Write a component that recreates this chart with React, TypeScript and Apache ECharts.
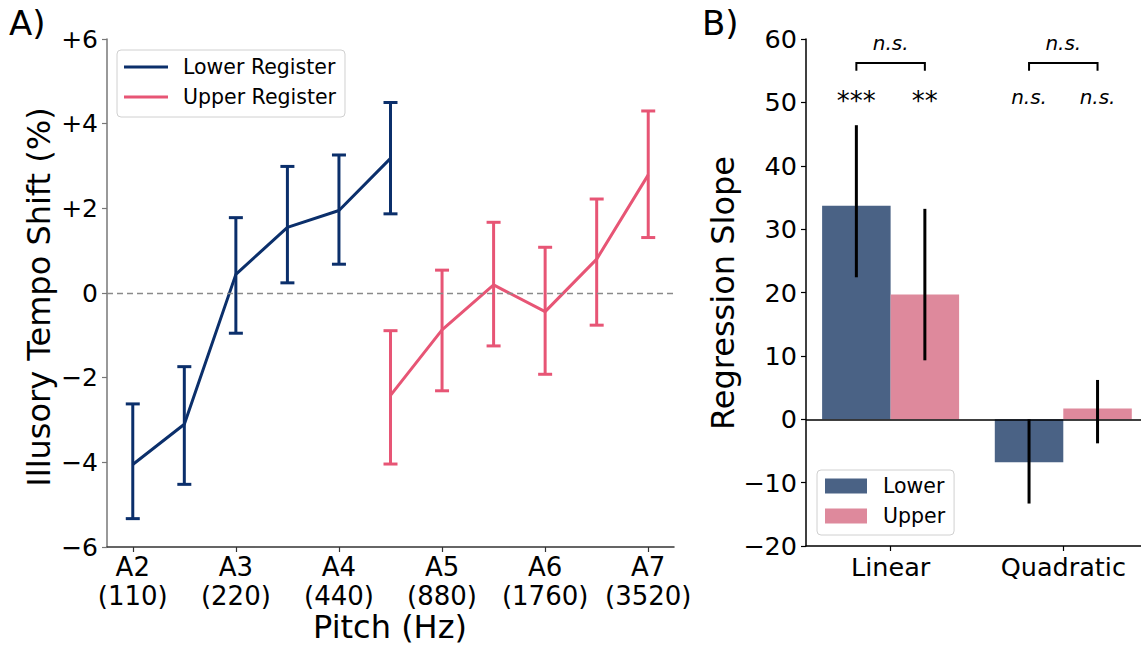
import React, { useEffect, useRef } from "react";
import * as echarts from "echarts";

// Panel A: pitch positions (octave steps from A2) and tempo shift (%)
const pitchTicks = [0, 1, 2, 3, 4, 5];
const pitchNames = ["A2", "A3", "A4", "A5", "A6", "A7"];
const pitchHz = ["110", "220", "440", "880", "1760", "3520"];

const lowerPos = [0, 0.5, 1, 1.5, 2, 2.5];
const lowerMean = [-4.05, -3.1, 0.44, 1.55, 1.95, 3.18];
const lowerLow = [-5.33, -4.52, -0.95, 0.24, 0.68, 1.87];
const lowerHigh = [-2.62, -1.74, 1.78, 2.99, 3.26, 4.5];

const upperPos = [2.5, 3, 3.5, 4, 4.5, 5];
const upperMean = [-2.42, -0.87, 0.19, -0.44, 0.8, 2.79];
const upperLow = [-4.04, -2.31, -1.25, -1.92, -0.76, 1.31];
const upperHigh = [-0.89, 0.54, 1.67, 1.08, 2.22, 4.3];

// Panel B: regression slopes
const slopeTerms = ["Linear", "Quadratic"];
const termPos = [0, 1];
const slopeLower = [33.7, -6.8];
const slopeLowerLow = [22.4, -13.3];
const slopeLowerHigh = [46.4, 0];
const slopeUpper = [19.7, 1.7];
const slopeUpperLow = [9.3, -3.8];
const slopeUpperHigh = [33.2, 6.2];
const sigLower = ["***", "n.s."];
const sigUpper = ["**", "n.s."];
const sigBetween = ["n.s.", "n.s."];

const NAVY = "#0b2f6b";
const PINK = "#e75575";
const BAR_NAVY = "#4a6285";
const BAR_PINK = "#de899c";
const FONT = "DejaVu Sans";
const BAR_W = 68.5;

const signed = (v: number) =>
  v > 0 ? "+" + v : v < 0 ? "\u2212" + Math.abs(v) : "0";
const minus = (v: number) => (v < 0 ? "\u2212" + Math.abs(v) : String(v));

function errorBars(color: string, capHalf: number, offset: number, width: number) {
  return (_p: any, api: any) => {
    const x = api.value(0);
    const lo = api.coord([x, api.value(1)]);
    const hi = api.coord([x, api.value(2)]);
    const cx = lo[0] + offset;
    const style = { stroke: color, lineWidth: width };
    const children: any[] = [
      { type: "line", shape: { x1: cx, y1: lo[1], x2: cx, y2: hi[1] }, style },
    ];
    if (capHalf > 0) {
      children.push(
        { type: "line", shape: { x1: cx - capHalf, y1: lo[1], x2: cx + capHalf, y2: lo[1] }, style },
        { type: "line", shape: { x1: cx - capHalf, y1: hi[1], x2: cx + capHalf, y2: hi[1] }, style }
      );
    }
    return { type: "group", children };
  };
}

// Bars of one slope series, each offset half a bar width from its term position
function slopeBars(color: string, offset: number) {
  return (_p: any, api: any) => {
    const x = api.value(0);
    const base = api.coord([x, 0]);
    const top = api.coord([x, api.value(1)]);
    const cx = base[0] + offset;
    return {
      type: "rect",
      shape: {
        x: cx - BAR_W / 2,
        y: Math.min(base[1], top[1]),
        width: BAR_W,
        height: Math.abs(base[1] - top[1]),
      },
      style: { fill: color },
    };
  };
}

function sigMarks(_p: any, api: any) {
  const pos = api.value(0);
  const i = _p.dataIndex;
  const c = api.coord([pos, 56.2]);
  const legEnd = api.coord([pos, 55.0])[1];
  const xl = c[0] - BAR_W / 2;
  const xr = c[0] + BAR_W / 2;
  const lineStyle = { stroke: "#000", lineWidth: 2 };
  const top = api.coord([pos, 59.4]);
  const row = api.coord([pos, 50.9]);
  const isStar = (s: string) => s.indexOf("*") >= 0;
  const label = (s: string, x: number, y: number) => ({
    type: "text",
    x,
    y: isStar(s) ? y + 4 : y,
    style: {
      text: s,
      fontFamily: FONT,
      fontSize: isStar(s) ? 26 : 20,
      fontStyle: isStar(s) ? "normal" : "italic",
      fill: "#000",
      align: "center",
      verticalAlign: "middle",
    },
  });
  return {
    type: "group",
    children: [
      { type: "polyline", shape: { points: [[xl, legEnd], [xl, c[1]], [xr, c[1]], [xr, legEnd]] }, style: { ...lineStyle, fill: "none" } },
      label(sigBetween[i], c[0], top[1]),
      label(sigLower[i], xl, row[1]),
      label(sigUpper[i], xr, row[1]),
    ],
  };
}

const title = (text: string, x: number, y: number, rotated: boolean) => ({
  type: "text",
  x,
  y,
  rotation: rotated ? Math.PI / 2 : 0,
  style: {
    text,
    fontFamily: FONT,
    fontSize: 32,
    fill: "#000",
    align: "center",
    verticalAlign: "middle",
  },
});

export default function App() {
  const ref = useRef<HTMLDivElement>(null);
  useEffect(() => {
    if (!ref.current) return;
    const chart = echarts.init(ref.current, undefined, { renderer: "svg" });
    const txt = { fontFamily: FONT, color: "#000" };
    chart.setOption({
      animation: false,
      backgroundColor: "#fff",
      textStyle: { fontFamily: FONT },
      grid: [
        { left: 107, top: 39, width: 567, height: 508 },
        { left: 806, top: 39, width: 335, height: 507 },
      ],
      xAxis: [
        {
          type: "value",
          gridIndex: 0,
          min: -0.25,
          max: 5.25,
          splitLine: { show: false },
          axisLine: { onZero: false, lineStyle: { color: "#333", width: 1.5 } },
          axisTick: { customValues: pitchTicks, length: 5, lineStyle: { color: "#333", width: 1.2 } },
          axisLabel: {
            customValues: pitchTicks,
            ...txt,
            fontSize: 26,
            lineHeight: 28.5,
            margin: 6,
            formatter: (v: number) => {
              const i = pitchTicks.indexOf(Math.round(v));
              return `${pitchNames[i]}\n(${pitchHz[i]})`;
            },
          },
        },
        {
          type: "value",
          gridIndex: 1,
          min: -0.49,
          max: 1.45,
          splitLine: { show: false },
          axisLine: { onZero: false, lineStyle: { color: "#000", width: 1.5 } },
          axisTick: { customValues: termPos, length: 5, lineStyle: { color: "#000", width: 1.2 } },
          axisLabel: {
            customValues: termPos,
            ...txt,
            fontSize: 25.5,
            margin: 8,
            formatter: (v: number) => slopeTerms[Math.round(v)],
          },
        },
      ],
      yAxis: [
        {
          type: "value",
          gridIndex: 0,
          min: -6,
          max: 6,
          interval: 2,
          splitLine: { show: false },
          axisLine: { show: true, onZero: false, lineStyle: { color: "#777", width: 1.5 } },
          axisTick: { show: true, length: 5, lineStyle: { color: "#777", width: 1.2 } },
          axisLabel: { ...txt, fontSize: 25, margin: 9, formatter: signed },
        },
        {
          type: "value",
          gridIndex: 1,
          min: -20,
          max: 60,
          interval: 10,
          splitLine: { show: false },
          axisLine: { show: true, onZero: false, lineStyle: { color: "#000", width: 1.5 } },
          axisTick: { show: true, length: 5, lineStyle: { color: "#000", width: 1.2 } },
          axisLabel: { ...txt, fontSize: 25.5, margin: 9, formatter: minus },
        },
      ],
      legend: [
        {
          left: 117,
          top: 50,
          orient: "vertical",
          itemWidth: 44,
          itemHeight: 3,
          itemGap: 6,
          padding: [5, 9, 8, 7],
          borderColor: "#d0d0d0",
          borderWidth: 1,
          borderRadius: 4,
          backgroundColor: "#fff",
          textStyle: { ...txt, fontSize: 20.5, lineHeight: 24, padding: [0, 0, 0, 10] },
          data: [
            { name: "Lower Register", icon: "rect" },
            { name: "Upper Register", icon: "rect" },
          ],
        },
        {
          left: 817,
          top: 470,
          orient: "vertical",
          itemWidth: 42,
          itemHeight: 15,
          itemGap: 6,
          padding: [4, 9, 7, 8],
          borderColor: "#d0d0d0",
          borderWidth: 1,
          borderRadius: 4,
          backgroundColor: "#fff",
          textStyle: { ...txt, fontSize: 20.5, lineHeight: 24, padding: [0, 0, 0, 11] },
          data: [
            { name: "Lower", icon: "rect", itemStyle: { color: BAR_NAVY } },
            { name: "Upper", icon: "rect", itemStyle: { color: BAR_PINK } },
          ],
        },
      ],
      series: [
        {
          name: "Lower Register",
          type: "line",
          xAxisIndex: 0,
          yAxisIndex: 0,
          data: lowerPos.map((x, i) => [x, lowerMean[i]]),
          symbol: "none",
          color: NAVY,
          lineStyle: { width: 3, color: NAVY },
          z: 3,
          markLine: {
            silent: true,
            symbol: "none",
            label: { show: false },
            lineStyle: { type: [6, 4], color: "#8a8a8a", width: 1.3 },
            data: [{ yAxis: 0 }],
          },
        },
        {
          name: "Upper Register",
          type: "line",
          xAxisIndex: 0,
          yAxisIndex: 0,
          data: upperPos.map((x, i) => [x, upperMean[i]]),
          symbol: "none",
          color: PINK,
          lineStyle: { width: 3, color: PINK },
          z: 3,
        },
        {
          type: "custom",
          xAxisIndex: 0,
          yAxisIndex: 0,
          renderItem: errorBars(NAVY, 7, 0, 3),
          data: lowerPos.map((x, i) => [x, lowerLow[i], lowerHigh[i]]),
          z: 4,
        },
        {
          type: "custom",
          xAxisIndex: 0,
          yAxisIndex: 0,
          renderItem: errorBars(PINK, 7, 0, 3),
          data: upperPos.map((x, i) => [x, upperLow[i], upperHigh[i]]),
          z: 4,
        },
        {
          name: "Lower",
          type: "custom",
          xAxisIndex: 1,
          yAxisIndex: 1,
          color: BAR_NAVY,
          renderItem: slopeBars(BAR_NAVY, -BAR_W / 2),
          data: termPos.map((x, i) => [x, slopeLower[i]]),
          z: 2,
        },
        {
          name: "Upper",
          type: "custom",
          xAxisIndex: 1,
          yAxisIndex: 1,
          color: BAR_PINK,
          renderItem: slopeBars(BAR_PINK, BAR_W / 2),
          data: termPos.map((x, i) => [x, slopeUpper[i]]),
          z: 2,
          markLine: {
            silent: true,
            symbol: "none",
            label: { show: false },
            lineStyle: { type: "solid", color: "#000", width: 1.5 },
            data: [{ yAxis: 0 }],
            z: 5,
          },
        },
        {
          type: "custom",
          xAxisIndex: 1,
          yAxisIndex: 1,
          renderItem: errorBars("#000", 0, -BAR_W / 2, 3),
          data: termPos.map((x, i) => [x, slopeLowerLow[i], slopeLowerHigh[i]]),
          z: 6,
        },
        {
          type: "custom",
          xAxisIndex: 1,
          yAxisIndex: 1,
          renderItem: errorBars("#000", 0, BAR_W / 2, 3),
          data: termPos.map((x, i) => [x, slopeUpperLow[i], slopeUpperHigh[i]]),
          z: 6,
        },
        {
          type: "custom",
          xAxisIndex: 1,
          yAxisIndex: 1,
          renderItem: sigMarks,
          data: termPos.map((x) => [x]),
          z: 6,
          clip: false,
        },
      ],
      graphic: [
        {
          type: "text",
          x: 9,
          y: 23,
          style: { text: "A)", fontFamily: FONT, fontSize: 34, fill: "#000", verticalAlign: "middle" },
        },
        {
          type: "text",
          x: 702,
          y: 23,
          style: { text: "B)", fontFamily: FONT, fontSize: 34, fill: "#000", verticalAlign: "middle" },
        },
        title("Illusory Tempo Shift (%)", 39, 297, true),
        title("Pitch (Hz)", 390, 627, false),
        title("Regression Slope", 723, 293, true),
      ],
    });
    return () => chart.dispose();
  }, []);
  return (
    <div
      ref={ref}
      style={{ position: "fixed", left: 0, top: 0, width: 1141, height: 646, background: "#fff" }}
    />
  );
}
